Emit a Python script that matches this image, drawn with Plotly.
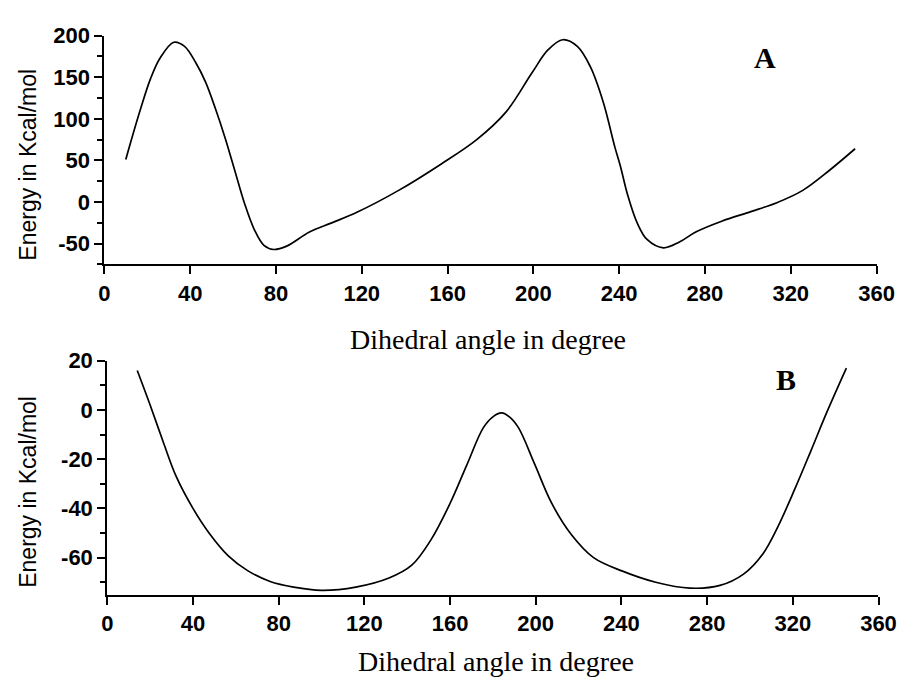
import plotly.graph_objects as go

# Panel A: dihedral angle (deg) vs energy (Kcal/mol)
angle_a = [10, 12.4, 16.9, 21.5, 26, 32.4, 37.4, 42.7, 47.2, 51.8, 56.3, 60.8, 65.4, 69.9, 74.4,
           79, 85, 95.6, 106, 118, 137.2, 156.9, 173.6, 187.2, 199.3, 206.9, 213.7, 220.5, 226.5,
           232.6, 238, 240.5, 243.8, 248.4, 253, 260.6, 268.1, 275.7, 287.8, 301.4, 313.5,
           325.6, 337.8, 350]
energy_a = [51, 73, 112, 148, 173, 192, 187, 167, 144, 112, 77, 38, -2, -33, -52,
            -57, -53, -36, -25, -12, 14, 45.5, 75, 108, 155, 183, 195, 187, 163,
            120, 66, 44, 10, -25, -45, -55, -48, -36, -23, -11.5, -0.8,
            14, 37.6, 64]

# Panel B
angle_b = [14, 20, 26, 32, 40, 47.5, 56.5, 65.5, 76, 87, 100, 116, 131.5, 142, 151, 160, 168,
           175.5, 180, 184, 188, 192, 199.5, 207.5, 216.5, 227, 240.5, 256, 272, 286, 297, 306,
           313, 321, 328.5, 336, 345]
energy_b = [16, 2, -12.7, -26.7, -40, -50, -59.3, -65.3, -69.7, -72, -73.3, -72, -68.3, -63.2,
            -52.9, -38, -22, -7.3, -2.8, -1.2, -3, -7.3, -22, -38, -50.5, -60, -65.5, -70,
            -72.4, -71.3, -66.7, -58.5, -47.5, -32, -16.5, -0.7, 17]

x_ticks = [0, 40, 80, 120, 160, 200, 240, 280, 320, 360]
x_labels = ["0", "40", "80", "120", "160", "200", "240", "280", "320", "360"]
y_ticks_a = [-50, 0, 50, 100, 150, 200]
y_labels_a = ["-50", "0", "50", "100", "150", "200"]
y_ticks_b = [-60, -40, -20, 0, 20]
y_labels_b = ["-60", "-40", "-20", "0", "20"]

W, H = 915, 679
SANS = "Arial, Liberation Sans, sans-serif"
SERIF = "Times New Roman, Liberation Serif, serif"


def px(x):
    return x / W


def py(y):
    return 1 - y / H


fig = go.Figure()
fig.add_trace(go.Scatter(x=angle_a, y=energy_a, mode="lines",
                         line=dict(color="black", width=1.7, shape="spline", smoothing=1.0),
                         xaxis="x", yaxis="y", showlegend=False))
fig.add_trace(go.Scatter(x=angle_b, y=energy_b, mode="lines",
                         line=dict(color="black", width=1.7, shape="spline", smoothing=1.0),
                         xaxis="x2", yaxis="y2", showlegend=False))

tickfont = dict(family=SANS, size=22, color="black", weight="bold")
xcommon = dict(range=[0, 360], tickvals=x_ticks, ticktext=x_labels, ticks="outside", ticklen=8,
               tickwidth=2, tickcolor="black", showline=True, linewidth=2, linecolor="black",
               showgrid=False, zeroline=False, tickfont=tickfont)
ycommon = dict(ticks="outside", ticklen=8, tickwidth=2, tickcolor="black", showline=True,
               linewidth=2, linecolor="black", showgrid=False, zeroline=False,
               tickfont=tickfont)

fig.update_layout(
    width=W, height=H, margin=dict(l=0, r=0, t=0, b=0),
    paper_bgcolor="white", plot_bgcolor="white",
    xaxis=dict(domain=[px(101), px(894)], anchor="y", **xcommon),
    yaxis=dict(domain=[py(257), py(24)], anchor="x", range=[-75, 200], tickvals=y_ticks_a,
               ticktext=y_labels_a,
               minor=dict(dtick=25, tick0=0, ticks="outside", ticklen=5, tickwidth=1.5,
                          tickcolor="black", showgrid=False),
               **ycommon),
    xaxis2=dict(domain=[px(104), px(896)], anchor="y2", **xcommon),
    yaxis2=dict(domain=[py(593), py(355)], anchor="x2", range=[-75, 20], tickvals=y_ticks_b,
                ticktext=y_labels_b,
                minor=dict(dtick=10, tick0=0, ticks="outside", ticklen=5, tickwidth=1.5,
                           tickcolor="black", showgrid=False),
                **ycommon),
)

ann = [
    dict(text="<b>A</b>", x=px(779), y=py(46), yanchor="middle",
         font=dict(family=SERIF, size=30, color="black")),
    dict(text="<b>B</b>", x=px(801), y=py(374), yanchor="middle",
         font=dict(family=SERIF, size=30, color="black")),
    dict(text="Dihedral angle in degree", x=px(495), y=py(333), yanchor="middle",
         font=dict(family=SERIF, size=28, color="black")),
    dict(text="Dihedral angle in degree", x=px(503), y=py(679), yanchor="bottom",
         font=dict(family=SERIF, size=28, color="black")),
    dict(text="Energy in Kcal/mol", x=px(23), y=py(155), yanchor="middle", textangle=-90,
         font=dict(family=SANS, size=23, color="black")),
    dict(text="Energy in Kcal/mol", x=px(23), y=py(488), yanchor="middle", textangle=-90,
         font=dict(family=SANS, size=23, color="black")),
]
for a in ann:
    fig.add_annotation(xref="paper", yref="paper", showarrow=False, xanchor="center", **a)

fig.write_html("out.html")
